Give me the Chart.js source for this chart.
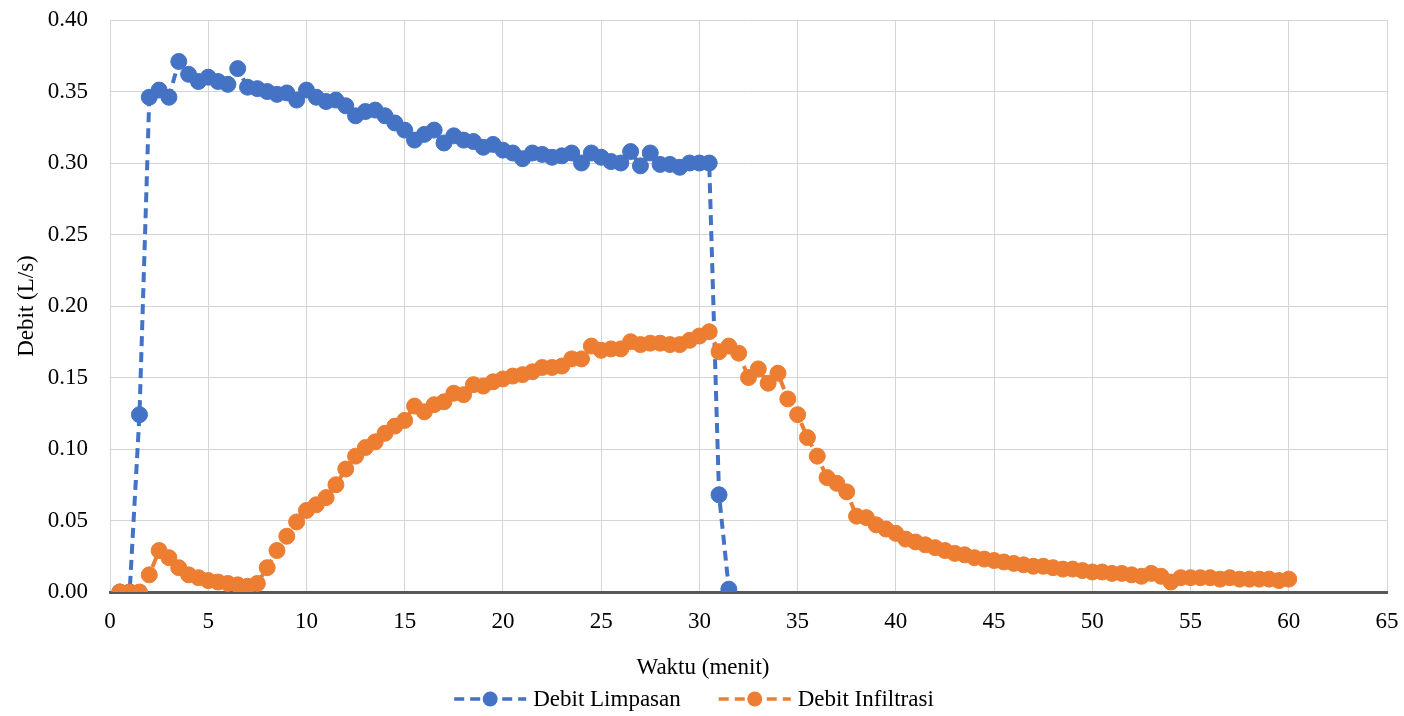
<!DOCTYPE html>
<html>
<head>
<meta charset="utf-8">
<script src="https://cdn.jsdelivr.net/npm/chart.js@4.4.0/dist/chart.umd.min.js"></script>
<style>
html, body { margin: 0; padding: 0; background: #fff; }
#debitChart { display: block; }
</style>
</head>
<body>
<canvas id="debitChart" width="1404" height="716"></canvas>
<script>
// Waktu (menit) for each series
var waktuLimpasan = [
    0.5, 1, 1.5, 2, 2.5, 3, 3.5, 4, 4.5, 5,
    5.5, 6, 6.5, 7, 7.5, 8, 8.5, 9, 9.5, 10,
    10.5, 11, 11.5, 12, 12.5, 13, 13.5, 14, 14.5, 15,
    15.5, 16, 16.5, 17, 17.5, 18, 18.5, 19, 19.5, 20,
    20.5, 21, 21.5, 22, 22.5, 23, 23.5, 24, 24.5, 25,
    25.5, 26, 26.5, 27, 27.5, 28, 28.5, 29, 29.5, 30,
    30.5, 31, 31.5
];
var debitLimpasan = [
    0, 0, 0.124, 0.346, 0.351, 0.346, 0.371, 0.362, 0.357, 0.360,
    0.357, 0.355, 0.366, 0.353, 0.352, 0.350, 0.348, 0.349, 0.344, 0.351,
    0.346, 0.343, 0.344, 0.340, 0.333, 0.336, 0.337, 0.333, 0.328, 0.323,
    0.316, 0.320, 0.323, 0.314, 0.319, 0.316, 0.315, 0.311, 0.313, 0.309,
    0.307, 0.303, 0.307, 0.306, 0.304, 0.305, 0.307, 0.300, 0.307, 0.304,
    0.301, 0.300, 0.308, 0.298, 0.307, 0.299, 0.299, 0.297, 0.300, 0.300,
    0.300, 0.068, 0.002
];
var waktuInfiltrasi = [
    0.5, 1, 1.5, 2, 2.5, 3, 3.5, 4, 4.5, 5,
    5.5, 6, 6.5, 7, 7.5, 8, 8.5, 9, 9.5, 10,
    10.5, 11, 11.5, 12, 12.5, 13, 13.5, 14, 14.5, 15,
    15.5, 16, 16.5, 17, 17.5, 18, 18.5, 19, 19.5, 20,
    20.5, 21, 21.5, 22, 22.5, 23, 23.5, 24, 24.5, 25,
    25.5, 26, 26.5, 27, 27.5, 28, 28.5, 29, 29.5, 30,
    30.5, 31, 31.5, 32, 32.5, 33, 33.5, 34, 34.5, 35,
    35.5, 36, 36.5, 37, 37.5, 38, 38.5, 39, 39.5, 40,
    40.5, 41, 41.5, 42, 42.5, 43, 43.5, 44, 44.5, 45,
    45.5, 46, 46.5, 47, 47.5, 48, 48.5, 49, 49.5, 50,
    50.5, 51, 51.5, 52, 52.5, 53, 53.5, 54, 54.5, 55,
    55.5, 56, 56.5, 57, 57.5, 58, 58.5, 59, 59.5, 60
];
var debitInfiltrasi = [
    0, 0, 0, 0.012, 0.029, 0.024, 0.017, 0.012, 0.010, 0.008,
    0.007, 0.006, 0.005, 0.004, 0.006, 0.017, 0.029, 0.039, 0.049, 0.057,
    0.061, 0.066, 0.075, 0.086, 0.095, 0.101, 0.105, 0.111, 0.116, 0.120,
    0.130, 0.126, 0.131, 0.133, 0.139, 0.138, 0.145, 0.144, 0.147, 0.149,
    0.151, 0.152, 0.154, 0.157, 0.157, 0.158, 0.163, 0.163, 0.172, 0.169,
    0.170, 0.170, 0.175, 0.173, 0.174, 0.174, 0.173, 0.173, 0.176, 0.179,
    0.182, 0.168, 0.172, 0.167, 0.150, 0.156, 0.146, 0.153, 0.135, 0.124,
    0.108, 0.095, 0.080, 0.076, 0.070, 0.053, 0.052, 0.047, 0.044, 0.041,
    0.037, 0.035, 0.033, 0.031, 0.029, 0.027, 0.026, 0.024, 0.023, 0.022,
    0.021, 0.020, 0.019, 0.018, 0.018, 0.017, 0.016, 0.016, 0.015, 0.014,
    0.014, 0.013, 0.013, 0.012, 0.011, 0.013, 0.011, 0.007, 0.010, 0.010,
    0.010, 0.010, 0.009, 0.010, 0.009, 0.009, 0.009, 0.009, 0.008, 0.009
];
var seriesLabels = ['Debit Limpasan', 'Debit Infiltrasi'];
var seriesColors = ['#4472C4', '#ED7D31'];
var xTitle = 'Waktu (menit)';

var fontFamily = '"Liberation Serif", "Times New Roman", serif';
var fontSize = 23;
var gridColor = '#d4d4d4';

function toPoints(xs, ys) {
    return xs.map(function (x, i) { return { x: x, y: ys[i] }; });
}

/**
 * Excel-like x title and legend, centred on the whole picture
 * rather than on the plot area
 */
var bottomLegend = {
    id: 'bottomLegend',
    afterDraw: function (chart) {
        var ctx = chart.ctx;
        var iconW = 72, gapIcon = 7, gapItem = 38, y = 699;
        ctx.save();
        ctx.font = fontSize + 'px ' + fontFamily;
        ctx.textBaseline = 'middle';

        // axis title
        ctx.fillStyle = '#000';
        ctx.textAlign = 'center';
        ctx.fillText(xTitle, 703, 668);

        // legend items
        ctx.textAlign = 'left';
        var widths = seriesLabels.map(function (t) { return iconW + gapIcon + ctx.measureText(t).width; });
        var total = widths[0] + gapItem + widths[1];
        var x = 694 - total / 2;
        seriesLabels.forEach(function (label, i) {
            ctx.strokeStyle = seriesColors[i];
            ctx.fillStyle = seriesColors[i];
            ctx.lineWidth = 3.5;
            ctx.setLineDash([10, 6]);
            ctx.beginPath();
            ctx.moveTo(x, y);
            ctx.lineTo(x + iconW, y);
            ctx.stroke();
            ctx.setLineDash([]);
            ctx.beginPath();
            ctx.arc(x + iconW / 2, y, 7.5, 0, Math.PI * 2);
            ctx.fill();
            ctx.fillStyle = '#000';
            ctx.fillText(label, x + iconW + gapIcon, y + 1);
            x += widths[i] + gapItem;
        });
        ctx.restore();
    }
};

function makeDataset(i, xs, ys, order) {
    return {
        label: seriesLabels[i],
        data: toPoints(xs, ys),
        showLine: true,
        borderColor: seriesColors[i],
        backgroundColor: seriesColors[i],
        borderWidth: 4,
        borderDash: [10, 6],
        pointRadius: 8,
        pointBorderWidth: 1,
        pointBorderColor: seriesColors[i],
        pointBackgroundColor: seriesColors[i],
        order: order
    };
}

new Chart(document.getElementById('debitChart'), {
    type: 'scatter',
    data: {
        datasets: [
            makeDataset(0, waktuLimpasan, debitLimpasan, 1),
            makeDataset(1, waktuInfiltrasi, debitInfiltrasi, 0)
        ]
    },
    options: {
        responsive: false,
        animation: false,
        layout: { padding: { left: 0, right: 17, top: 20, bottom: 30 } },
        plugins: {
            legend: { display: false },
            tooltip: { enabled: false }
        },
        scales: {
            x: {
                type: 'linear',
                min: 0,
                max: 65,
                ticks: {
                    stepSize: 5,
                    padding: 16,
                    color: '#000',
                    font: { family: fontFamily, size: fontSize }
                },
                grid: { color: gridColor, lineWidth: 1, drawTicks: false },
                border: { color: '#595959', width: 3 },
                title: { display: false },
                afterFit: function (scale) {
                    scale.height = 94;
                    scale.paddingLeft = 0;
                    scale.paddingRight = 0;
                }
            },
            y: {
                min: 0,
                max: 0.4,
                ticks: {
                    stepSize: 0.05,
                    padding: 22,
                    color: '#000',
                    font: { family: fontFamily, size: fontSize },
                    callback: function (v) { return v.toFixed(2); }
                },
                grid: { color: gridColor, lineWidth: 1, drawTicks: false },
                border: { display: false },
                title: {
                    display: true,
                    text: 'Debit (L/s)',
                    color: '#000',
                    font: { family: fontFamily, size: fontSize },
                    padding: { top: 13, bottom: 0 }
                },
                afterFit: function (scale) {
                    scale.width = 110;
                    scale.paddingTop = 0;
                    scale.paddingBottom = 0;
                }
            }
        }
    },
    plugins: [bottomLegend]
});
</script>
</body>
</html>
